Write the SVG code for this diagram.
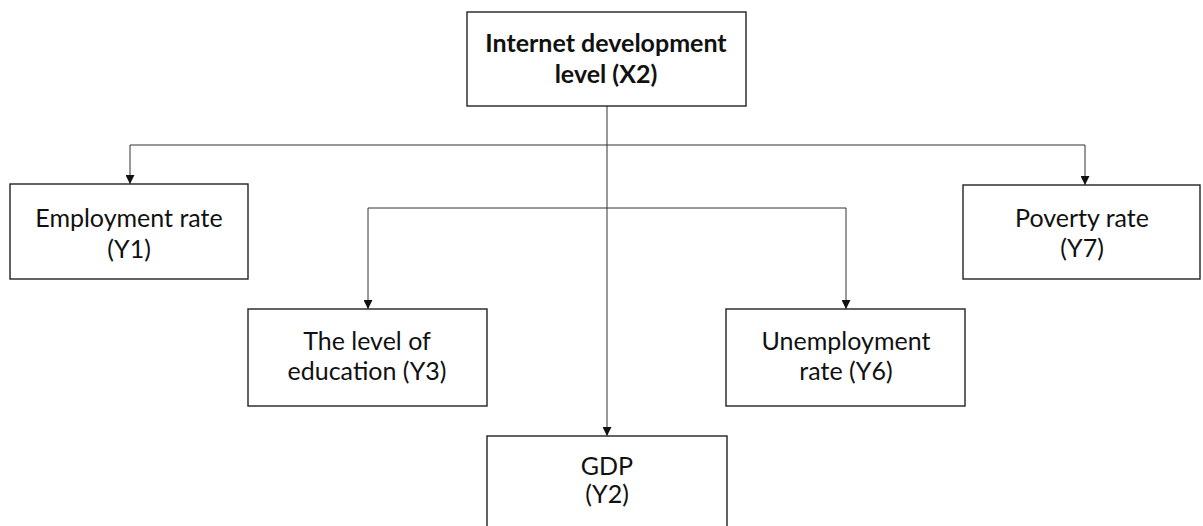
<svg xmlns="http://www.w3.org/2000/svg" width="1203" height="526" viewBox="0 0 1203 526">
  <style>
    .box { fill: #ffffff; stroke: #222222; stroke-width: 1.4; }
    .lbl { font-family: Lato, "Open Sans", "Liberation Sans", sans-serif; font-size: 25px; fill: #111111; text-anchor: middle; }
    .bold { font-weight: bold; }
    .wire { fill: none; stroke: #333333; stroke-width: 1; }
  </style>
  <defs>
    <marker id="arrow" viewBox="0 0 10 10" refX="10" refY="5" markerWidth="9" markerHeight="9" markerUnits="userSpaceOnUse" orient="auto">
      <path d="M0,0 L10,5 L0,10 Z" fill="#111111"/>
    </marker>
  </defs>
  <rect width="1203" height="526" fill="#ffffff"/>

  <!-- connectors -->
  <g id="connectors">
    <path class="wire" d="M607,106 V436" marker-end="url(#arrow)"/>
    <path class="wire" d="M607,145 H130 V184" marker-end="url(#arrow)"/>
    <path class="wire" d="M607,145 H1085 V185" marker-end="url(#arrow)"/>
    <path class="wire" d="M607,208 H368 V309" marker-end="url(#arrow)"/>
    <path class="wire" d="M607,208 H846 V309" marker-end="url(#arrow)"/>
  </g>

  <g id="x2">
    <rect class="box" x="467" y="12" width="279" height="94"/>
    <text class="lbl bold" x="606" y="52">Internet development</text>
    <text class="lbl bold" x="606" y="83">level (X2)</text>
  </g>

  <g id="y1">
    <rect class="box" x="10" y="184" width="238" height="95"/>
    <text class="lbl" x="129" y="227">Employment rate</text>
    <text class="lbl" x="129" y="258">(Y1)</text>
  </g>

  <g id="y7">
    <rect class="box" x="963" y="185" width="237" height="94"/>
    <text class="lbl" x="1082" y="227">Poverty rate</text>
    <text class="lbl" x="1082" y="257">(Y7)</text>
  </g>

  <g id="y3">
    <rect class="box" x="248" y="309" width="239" height="97"/>
    <text class="lbl" x="367" y="350">The level of</text>
    <text class="lbl" x="367" y="380">education (Y3)</text>
  </g>

  <g id="y6">
    <rect class="box" x="726" y="309" width="239" height="97"/>
    <text class="lbl" x="846" y="350">Unemployment</text>
    <text class="lbl" x="846" y="380">rate (Y6)</text>
  </g>

  <g id="y2">
    <rect class="box" x="487" y="436" width="240" height="100"/>
    <text class="lbl" x="607" y="475">GDP</text>
    <text class="lbl" x="607" y="503">(Y2)</text>
  </g>
</svg>
